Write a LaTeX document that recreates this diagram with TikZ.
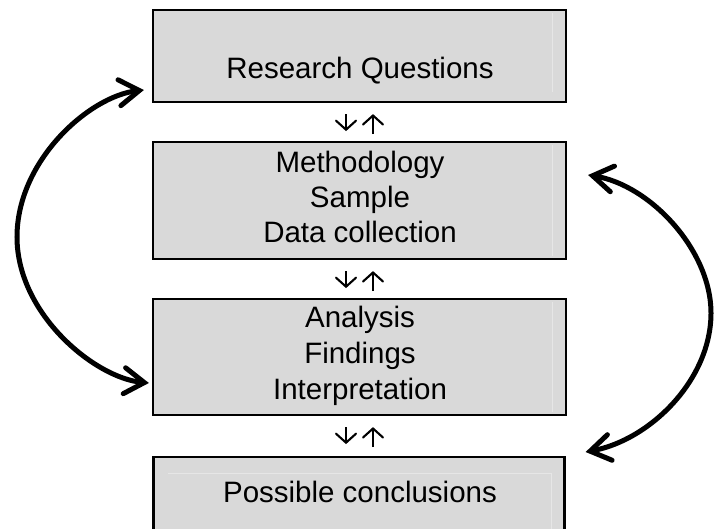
\documentclass[tikz,border=0pt]{standalone}
\usepackage{fontspec}
\setmainfont{Liberation Sans}
\usetikzlibrary{arrows.meta}
\definecolor{boxfill}{RGB}{217,217,217}
\definecolor{faint}{RGB}{230,230,230}
\tikzset{
  box/.style={draw=black, line width=2.2pt, fill=boxfill, minimum width=413pt, inner sep=0pt, rectangle},
  lbl/.style={inner sep=0pt, anchor=base, font=\fontsize{29.5}{35}\selectfont},
  updown/.style={line width=2.1pt, -{Straight Barb[length=9pt,width=20pt,line cap=round]}},
  bigarrow/.style={line width=5pt, line cap=round, {Straight Barb[length=20pt,width=26pt,line cap=round]}-{Straight Barb[length=20pt,width=26pt,line cap=round]}},
  faintline/.style={faint, line width=1pt}
}
\begin{document}
\begin{tikzpicture}[x=1pt,y=-1pt]
\useasboundingbox (0,0) rectangle (714,529);
\clip (0,0) rectangle (714,529);
\fill[white] (0,0) rectangle (714,529);
% boxes
\node[box, minimum height=92pt]  (b1) at (359.5,56) {};
\node[box, minimum height=117pt] (b2) at (359.5,200.5) {};
\node[box, minimum height=116pt] (b3) at (359.5,357) {};
\node[box, minimum width=411pt, minimum height=90pt] (b4) at (359,502) {};
% faint inner lines
\draw[faintline] (552,13) -- (552,92);
\draw[faintline] (552,145) -- (552,256);
\draw[faintline] (552,302) -- (552,412);
\draw[faintline] (168,473) -- (551,473) -- (551,529);
% texts
\node[lbl] (t1) at (360,79) {Research Questions};
\node[lbl] (t2a) at (360,173) {Methodology};
\node[lbl] (t2b) at (360,208) {Sample};
\node[lbl] (t2c) at (360,243) {Data collection};
\node[lbl] (t3a) at (360,327) {Analysis};
\node[lbl] (t3b) at (360,363) {Findings};
\node[lbl] (t3c) at (360,399) {Interpretation};
\node[lbl] (t4) at (360,502) {Possible conclusions};
% small arrows between boxes
\foreach \a/\b in {b1/b2,b2/b3,b3/b4}{
  \draw[updown] ([xshift=-13.5pt,yshift=-11pt]\a.south) -- ++(0,17);
  \draw[updown] ([xshift=13.5pt,yshift=-31pt]\a.south) -- ++(0,-20);
}
% big curved arrows
\draw[bigarrow] ([shift={(-8,34)}]b1.west) .. controls (90,96) and (17,160) .. (17,237)
  .. controls (17,314) and (95,378) .. ([shift={(-3,26)}]b3.west);
\draw[bigarrow] ([shift={(21,-25.5)}]b2.east) .. controls (650,185) and (711,250) .. (711,313)
  .. controls (711,380) and (650,440) .. ([shift={(20,-50)}]b4.east);
\end{tikzpicture}
\end{document}
